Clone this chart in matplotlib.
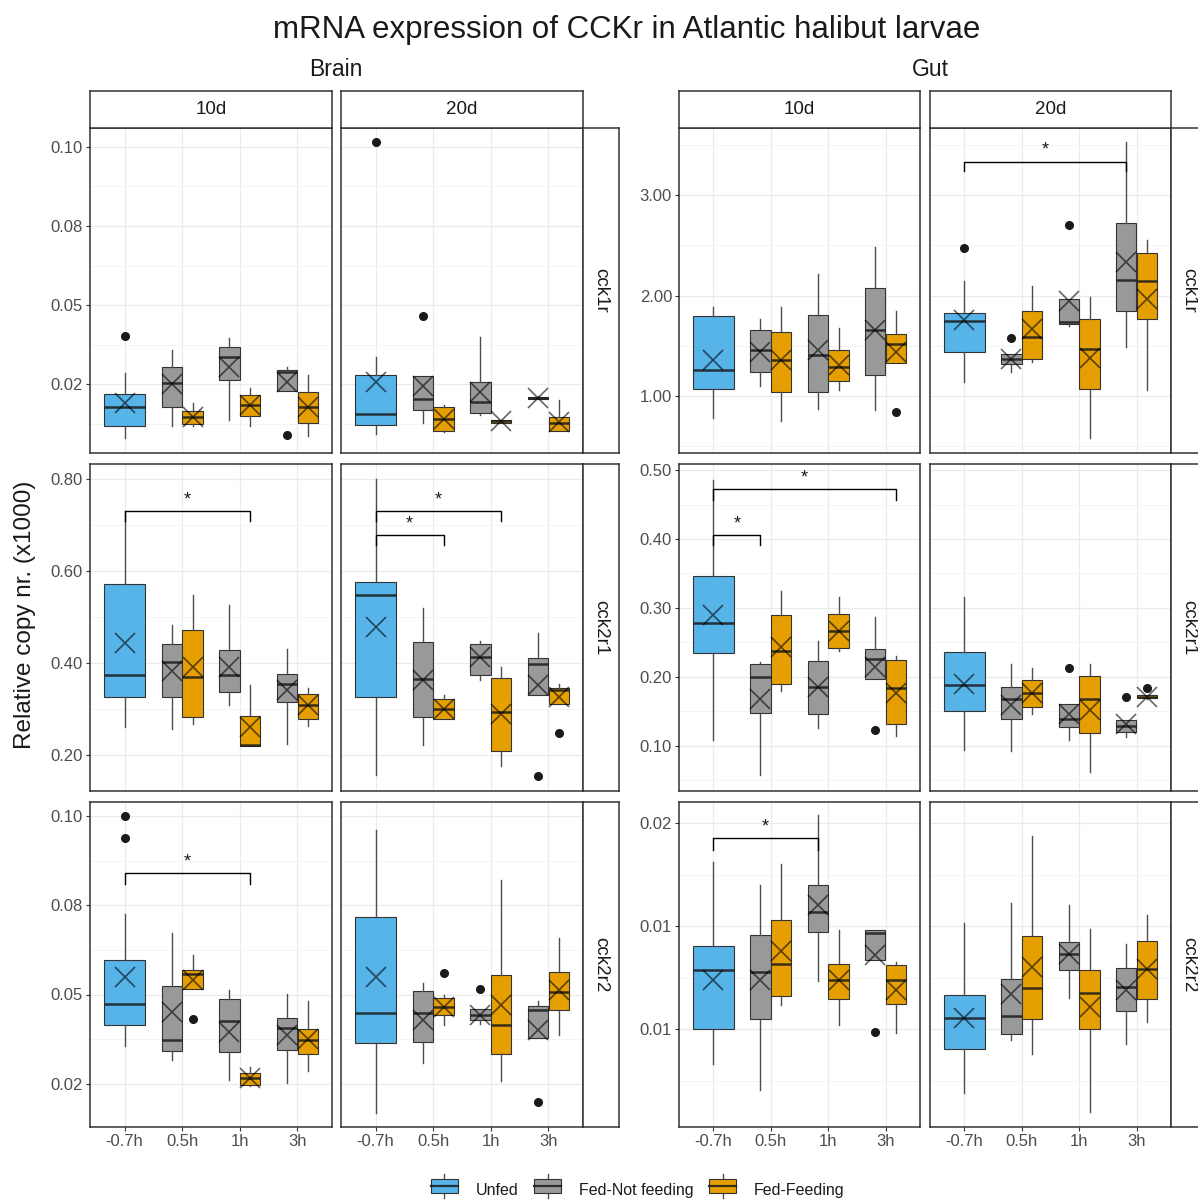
import matplotlib
matplotlib.use("Agg")
import matplotlib.pyplot as plt
from matplotlib.legend_handler import HandlerBase
from matplotlib.patches import Rectangle
from matplotlib.lines import Line2D

plt.rcParams['font.family'] = ['Liberation Sans', 'DejaVu Sans']

groups = ["Unfed", "Fed-Not feeding", "Fed-Feeding"]
group_colors = ["#56B4E9", "#999999", "#E69F00"]
times = ["-0.7h", "0.5h", "1h", "3h"]
days = ["10d", "20d"]
genes = ["cck1r", "cck2r1", "cck2r2"]
tissues = ["Brain", "Gut"]

# order of the boxes in every panel
box_time = [0, 1, 1, 2, 2, 3, 3]
box_group = [0, 1, 2, 1, 2, 1, 2]

# rows: whisker low, q1, median, q3, whisker high, mean
brain_cck1r_10d = [
    [0.0079, 0.0116, 0.0179, 0.0219, 0.0286, 0.0190],
    [0.0116, 0.0177, 0.0253, 0.0305, 0.0358, 0.0250],
    [0.0116, 0.0124, 0.0145, 0.0165, 0.0190, 0.0147],
    [0.0135, 0.0263, 0.0337, 0.0366, 0.0397, 0.0305],
    [0.0116, 0.0149, 0.0184, 0.0215, 0.0237, 0.0184],
    [0.0229, 0.0229, 0.0289, 0.0295, 0.0303, 0.0258],
    [0.0086, 0.0128, 0.0177, 0.0224, 0.0279, 0.0179],
]
brain_cck1r_20d = [
    [0.0093, 0.0121, 0.0155, 0.0280, 0.0335, 0.0258],
    [0.0126, 0.0168, 0.0202, 0.0276, 0.0276, 0.0244],
    [0.0097, 0.0102, 0.0139, 0.0177, 0.0184, 0.0139],
    [0.0153, 0.0160, 0.0192, 0.0258, 0.0400, 0.0226],
    [0.0126, 0.0128, 0.0132, 0.0135, 0.0137, 0.0132],
    [0.0203, 0.0204, 0.0207, 0.0210, 0.0212, 0.0207],
    [0.0102, 0.0102, 0.0126, 0.0147, 0.0200, 0.0130],
]
gut_cck1r_10d = [
    [0.78, 1.07, 1.26, 1.80, 1.89, 1.36],
    [1.10, 1.24, 1.46, 1.66, 1.77, 1.44],
    [0.75, 1.04, 1.36, 1.64, 1.89, 1.36],
    [0.87, 1.04, 1.41, 1.81, 2.21, 1.46],
    [1.06, 1.15, 1.29, 1.46, 1.68, 1.31],
    [0.86, 1.21, 1.66, 2.07, 2.48, 1.66],
    [1.33, 1.33, 1.52, 1.62, 1.85, 1.44],
]
gut_cck1r_20d = [
    [1.14, 1.44, 1.75, 1.83, 2.14, 1.76],
    [1.24, 1.32, 1.37, 1.42, 1.42, 1.37],
    [1.34, 1.37, 1.59, 1.85, 2.09, 1.67],
    [1.70, 1.72, 1.74, 1.97, 1.97, 1.95],
    [0.58, 1.07, 1.47, 1.77, 1.99, 1.38],
    [1.49, 1.85, 2.15, 2.72, 3.53, 2.33],
    [1.06, 1.77, 2.14, 2.42, 2.55, 1.97],
]
brain_cck2r1_10d = [
    [0.261, 0.326, 0.374, 0.572, 0.730, 0.444],
    [0.257, 0.326, 0.403, 0.441, 0.483, 0.384],
    [0.268, 0.283, 0.370, 0.472, 0.548, 0.392],
    [0.310, 0.337, 0.374, 0.428, 0.526, 0.392],
    [0.219, 0.219, 0.223, 0.286, 0.352, 0.261],
    [0.225, 0.315, 0.355, 0.376, 0.430, 0.341],
    [0.264, 0.278, 0.308, 0.332, 0.347, 0.308],
]
brain_cck2r1_20d = [
    [0.156, 0.326, 0.548, 0.576, 0.800, 0.479],
    [0.221, 0.283, 0.366, 0.445, 0.519, 0.363],
    [0.279, 0.279, 0.301, 0.323, 0.330, 0.301],
    [0.364, 0.374, 0.414, 0.441, 0.448, 0.414],
    [0.177, 0.209, 0.294, 0.368, 0.392, 0.290],
    [0.330, 0.330, 0.399, 0.412, 0.466, 0.352],
    [0.312, 0.312, 0.342, 0.346, 0.355, 0.326],
]
gut_cck2r1_10d = [
    [0.108, 0.235, 0.278, 0.346, 0.486, 0.289],
    [0.057, 0.147, 0.200, 0.218, 0.222, 0.168],
    [0.179, 0.189, 0.238, 0.289, 0.325, 0.243],
    [0.125, 0.146, 0.185, 0.223, 0.252, 0.185],
    [0.238, 0.242, 0.266, 0.291, 0.316, 0.266],
    [0.197, 0.197, 0.226, 0.240, 0.287, 0.214],
    [0.114, 0.131, 0.183, 0.225, 0.230, 0.176],
]
gut_cck2r1_20d = [
    [0.094, 0.150, 0.188, 0.236, 0.316, 0.190],
    [0.092, 0.139, 0.168, 0.185, 0.219, 0.159],
    [0.146, 0.156, 0.176, 0.195, 0.212, 0.176],
    [0.108, 0.127, 0.138, 0.161, 0.161, 0.146],
    [0.062, 0.118, 0.168, 0.201, 0.219, 0.152],
    [0.112, 0.120, 0.128, 0.137, 0.137, 0.132],
    [0.168, 0.169, 0.171, 0.173, 0.174, 0.171],
]
brain_cck2r2_10d = [
    [0.0355, 0.0415, 0.0474, 0.0596, 0.0726, 0.0549],
    [0.0317, 0.0343, 0.0373, 0.0523, 0.0672, 0.0451],
    [0.0516, 0.0516, 0.0558, 0.0570, 0.0610, 0.0540],
    [0.0261, 0.0339, 0.0425, 0.0488, 0.0513, 0.0395],
    [0.0243, 0.0248, 0.0267, 0.0280, 0.0298, 0.0267],
    [0.0252, 0.0346, 0.0406, 0.0434, 0.0502, 0.0386],
    [0.0287, 0.0334, 0.0372, 0.0404, 0.0482, 0.0376],
]
brain_cck2r2_20d = [
    [0.0168, 0.0364, 0.0449, 0.0717, 0.0960, 0.0549],
    [0.0308, 0.0367, 0.0448, 0.0510, 0.0532, 0.0428],
    [0.0414, 0.0444, 0.0465, 0.0491, 0.0500, 0.0465],
    [0.0418, 0.0429, 0.0444, 0.0460, 0.0460, 0.0444],
    [0.0259, 0.0334, 0.0414, 0.0554, 0.0822, 0.0470],
    [0.0379, 0.0379, 0.0456, 0.0467, 0.0482, 0.0400],
    [0.0386, 0.0457, 0.0507, 0.0563, 0.0659, 0.0512],
]
gut_cck2r2_10d = [
    [0.00830, 0.01000, 0.01286, 0.01405, 0.01811, 0.01237],
    [0.00708, 0.01052, 0.01278, 0.01456, 0.01701, 0.01237],
    [0.01116, 0.01160, 0.01315, 0.01531, 0.01803, 0.01380],
    [0.01234, 0.01472, 0.01569, 0.01701, 0.02037, 0.01601],
    [0.01019, 0.01149, 0.01237, 0.01318, 0.01480, 0.01237],
    [0.01338, 0.01338, 0.01467, 0.01480, 0.01480, 0.01359],
    [0.00982, 0.01124, 0.01237, 0.01310, 0.01326, 0.01189],
]
gut_cck2r2_20d = [
    [0.00691, 0.00906, 0.01055, 0.01165, 0.01515, 0.01055],
    [0.00950, 0.00979, 0.01063, 0.01246, 0.01612, 0.01173],
    [0.00882, 0.01052, 0.01202, 0.01451, 0.01935, 0.01302],
    [0.01153, 0.01286, 0.01363, 0.01423, 0.01604, 0.01363],
    [0.00600, 0.01000, 0.01176, 0.01289, 0.01488, 0.01108],
    [0.00931, 0.01089, 0.01205, 0.01297, 0.01415, 0.01189],
    [0.01036, 0.01149, 0.01294, 0.01428, 0.01553, 0.01294],
]

# outliers: (box index, value)
brain_cck1r_10d_out = [(0, 0.0403), (5, 0.0089)]
brain_cck1r_20d_out = [(0, 0.1016), (1, 0.0465)]
gut_cck1r_10d_out = [(6, 0.834)]
gut_cck1r_20d_out = [(0, 2.476), (1, 1.574), (3, 2.70)]
brain_cck2r1_10d_out = []
brain_cck2r1_20d_out = [(5, 0.154), (6, 0.248)]
gut_cck2r1_10d_out = [(5, 0.123)]
gut_cck2r1_20d_out = [(3, 0.212), (5, 0.170), (6, 0.184)]
brain_cck2r2_10d_out = [(0, 0.1000), (0, 0.0937), (2, 0.0432)]
brain_cck2r2_20d_out = [(2, 0.0560), (3, 0.0516), (5, 0.0199)]
gut_cck2r2_10d_out = [(5, 0.00987)]
gut_cck2r2_20d_out = []

# significance brackets: (box from, box to, bar height, end height)
gut_cck1r_20d_sig = [(0, 5, 3.335, 3.24)]
brain_cck2r1_10d_sig = [(0, 4, 0.730, 0.708)]
brain_cck2r1_20d_sig = [(0, 4, 0.730, 0.708), (0, 2, 0.679, 0.657)]
gut_cck2r1_10d_sig = [(0, 6, 0.473, 0.457), (0, 1, 0.406, 0.391)]
brain_cck2r2_10d_sig = [(0, 4, 0.0840, 0.0810)]
gut_cck2r2_10d_sig = [(0, 3, 0.01927, 0.01871)]

# y ticks per tissue and gene
brain_cck1r_ticks = [0.025, 0.05, 0.075, 0.10]
brain_cck1r_labels = ["0.02", "0.05", "0.08", "0.10"]
gut_cck1r_ticks = [1, 2, 3]
gut_cck1r_labels = ["1.00", "2.00", "3.00"]
brain_cck2r1_ticks = [0.2, 0.4, 0.6, 0.8]
brain_cck2r1_labels = ["0.20", "0.40", "0.60", "0.80"]
gut_cck2r1_ticks = [0.1, 0.2, 0.3, 0.4, 0.5]
gut_cck2r1_labels = ["0.10", "0.20", "0.30", "0.40", "0.50"]
brain_cck2r2_ticks = [0.025, 0.05, 0.075, 0.10]
brain_cck2r2_labels = ["0.02", "0.05", "0.08", "0.10"]
gut_cck2r2_ticks = [0.01, 0.015, 0.02]
gut_cck2r2_labels = ["0.01", "0.01", "0.02"]

g = globals()
ylims = {
    ("Brain", "cck1r"): (0.0032, 0.106), ("Gut", "cck1r"): (0.43, 3.67),
    ("Brain", "cck2r1"): (0.122, 0.833), ("Gut", "cck2r1"): (0.034, 0.509),
    ("Brain", "cck2r2"): (0.0129, 0.1039), ("Gut", "cck2r2"): (0.00527, 0.02102),
}

W, H = 1198, 1200
fig = plt.figure(figsize=(W / 100, H / 100), dpi=100)


def px_axes(x0, y0, x1, y1):
    return fig.add_axes([x0 / W, 1 - y1 / H, (x1 - x0) / W, (y1 - y0) / H])


col_px = {"Brain": [(90, 332), (341, 583)], "Gut": [(679, 920), (930, 1171)]}
row_px = [(128, 453), (464, 791), (802, 1127)]
edge = "#333333"
offset = [0.0, -0.18, 0.18]
width = [0.72, 0.355, 0.355]
positions = [box_time[i] + offset[box_group[i]] for i in range(7)]
widths = [width[k] for k in box_group]


def strip(x0, y0, x1, y1, text, rot):
    s = px_axes(x0, y0, x1, y1)
    s.set_xticks([])
    s.set_yticks([])
    for sp in s.spines.values():
        sp.set_color(edge)
        sp.set_linewidth(1.1)
    s.text(0.5, 0.5, text, rotation=rot, ha="center", va="center",
           fontsize=13.5, color="#1A1A1A", transform=s.transAxes)


for tissue in tissues:
    for r, gene in enumerate(genes):
        y0, y1 = row_px[r]
        ticks = g[f"{tissue.lower()}_{gene}_ticks"]
        labels = g[f"{tissue.lower()}_{gene}_labels"]
        lo, hi = ylims[(tissue, gene)]
        step = ticks[1] - ticks[0]
        minor = [t - step / 2 for t in ticks] + [ticks[-1] + step / 2]
        for c, day in enumerate(days):
            x0, x1 = col_px[tissue][c]
            ax = px_axes(x0, y0, x1, y1)
            name = f"{tissue.lower()}_{gene}_{day}"
            rows = g[name]
            out = g[name + "_out"]
            stats = []
            for i, v in enumerate(rows):
                stats.append(dict(whislo=v[0], q1=v[1], med=v[2], q3=v[3], whishi=v[4],
                                  mean=v[5], fliers=[o for b, o in out if b == i]))
            bp = ax.bxp(stats, positions=positions, widths=widths, patch_artist=True,
                        showcaps=False, showmeans=True,
                        boxprops=dict(edgecolor=edge, linewidth=0.8),
                        whiskerprops=dict(color="#4D4D4D", linewidth=1.0),
                        medianprops=dict(color="#1A1A1A", linewidth=1.8, alpha=0.85),
                        meanprops=dict(marker="x", markersize=15, markeredgewidth=1.2,
                                       markeredgecolor="black", alpha=0.6),
                        flierprops=dict(marker="o", markersize=5.5, markerfacecolor="#1A1A1A",
                                        markeredgecolor="#1A1A1A"))
            for patch, k in zip(bp["boxes"], box_group):
                patch.set_facecolor(group_colors[k])
            for a, b, ybar, yend in g.get(name + "_sig", []):
                xa, xb = positions[a], positions[b]
                ax.plot([xa, xa, xb, xb], [yend, ybar, ybar, yend], color="black", lw=1.0)
                ax.annotate("*", ((xa + xb) / 2, ybar), xytext=(0, 2), textcoords="offset points",
                            ha="center", va="bottom", fontsize=13, color="#1A1A1A")
            ax.set_xticks(range(4))
            ax.set_yticks(ticks)
            ax.set_yticks(minor, minor=True)
            ax.set_xlim(-0.6, 3.6)
            ax.set_ylim(lo, hi)
            ax.grid(which="major", color="#EBEBEB", lw=0.9)
            ax.grid(which="minor", axis="y", color="#F3F3F3", lw=0.6)
            ax.set_axisbelow(True)
            for sp in ax.spines.values():
                sp.set_color(edge)
                sp.set_linewidth(1.1)
            ax.tick_params(which="minor", length=0)
            ax.tick_params(which="major", length=3, color=edge, labelsize=12,
                           labelcolor="#4D4D4D", pad=2)
            if c == 0:
                ax.set_yticklabels(labels)
            else:
                ax.tick_params(axis="y", length=0, labelleft=False)
            if r == 2:
                ax.set_xticklabels(times)
            else:
                ax.tick_params(axis="x", length=0, labelbottom=False)
            if r == 0:
                strip(x0, 91, x1, 128, day, 0)
        rx = col_px[tissue][1][1]
        strip(rx, y0, rx + 36, y1, gene, -90)

fig.text(627 / W, 1 - 30 / H, "mRNA expression of CCKr in Atlantic halibut larvae",
         ha="center", va="center", fontsize=22.5, color="#1A1A1A")
fig.text(336 / W, 1 - 70 / H, "Brain", ha="center", va="center", fontsize=16.5, color="#1A1A1A")
fig.text(930 / W, 1 - 70 / H, "Gut", ha="center", va="center", fontsize=16.5, color="#1A1A1A")
fig.text(25 / W, 1 - 615 / H, "Relative copy nr. (x1000)", rotation=90,
         ha="center", va="center", fontsize=17.5, color="#1A1A1A")


class BoxKey(HandlerBase):
    def create_artists(self, legend, orig, xd, yd, w, h, fontsize, trans):
        x, bw = xd + w * 0.1, w * 0.8
        whisk = Line2D([x + bw / 2, x + bw / 2], [yd - h * 0.35, yd + h * 1.35], color="#4D4D4D",
                       lw=1, transform=trans)
        box = Rectangle((x, yd), bw, h, facecolor=orig.get_facecolor(), edgecolor=edge,
                        lw=0.8, transform=trans)
        med = Line2D([x, x + bw], [yd + h / 2, yd + h / 2], color="#1A1A1A", lw=1.6,
                     alpha=0.85, transform=trans)
        return [whisk, box, med]


handles = [Rectangle((0, 0), 1, 1, facecolor=col) for col in group_colors]
fig.legend(handles, groups, handler_map={Rectangle: BoxKey()}, loc="center",
           bbox_to_anchor=(636 / W, 1 - 1190 / H), ncol=3, frameon=False, fontsize=11.5,
           handlelength=2.1, handleheight=1.0, columnspacing=0.8, handletextpad=0.9,
           labelcolor="#1A1A1A")

fig.savefig("out.png", dpi=100)
